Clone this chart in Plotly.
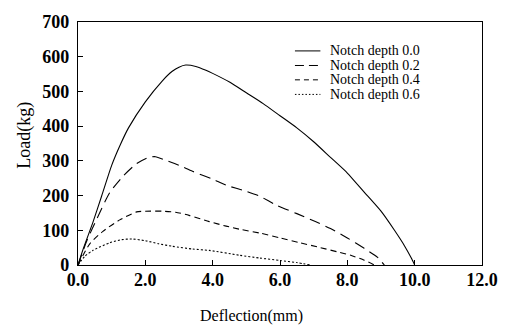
import plotly.graph_objects as go

# Notch depth 0.0 (solid)
defl_00 = [0, 0.15, 0.45, 0.7, 1.0, 1.25, 1.5, 2.0, 2.5, 2.8, 3.0, 3.2, 3.5, 3.8, 4.0, 4.5, 5.0,
           5.5, 6.0, 6.5, 7.0, 7.5, 8.0, 8.5, 9.0, 9.4, 9.7, 9.9, 10.0]
load_00 = [0, 45, 125, 198, 287, 345, 395, 470, 530, 558, 570, 576, 572, 561, 552, 527, 496,
           465, 430, 395, 355, 310, 265, 210, 155, 100, 55, 20, 0]
# Notch depth 0.2 (long dash)
defl_02 = [0, 0.26, 0.56, 0.94, 1.33, 1.74, 2.1, 2.3, 2.6, 3.0, 3.4, 4.0, 4.4, 5.0, 5.4, 5.9,
           6.5, 7.05, 7.5, 8.0, 8.5, 8.9, 9.1]
load_02 = [0, 69, 133, 208, 255, 292, 310, 312, 302, 287, 270, 247, 230, 212, 198, 172,
           148, 125, 105, 78, 48, 22, 0]
# Notch depth 0.4 (short dash)
defl_04 = [0, 0.35, 0.74, 1.24, 1.74, 2.0, 2.5, 2.9, 3.3, 3.9, 4.4, 4.8, 5.4, 6.0, 6.6, 7.2,
           7.7, 8.1, 8.5, 8.8]
load_04 = [0, 61, 97, 130, 153, 155, 155, 152, 143, 125, 112, 103, 92, 78, 64, 50,
           38, 28, 14, 0]
# Notch depth 0.6 (dotted)
defl_06 = [0, 0.2, 0.44, 0.94, 1.3, 1.6, 2.0, 2.4, 2.8, 3.4, 3.9, 4.8, 5.4, 6.0, 6.5, 6.9]
load_06 = [0, 25, 42, 64, 73, 75, 70, 61, 54, 46, 42, 28, 20, 13, 7, 0]

series_names = ["Notch depth 0.0", "Notch depth 0.2", "Notch depth 0.4", "Notch depth 0.6"]
dash_styles = ["solid", "11px,6px", "6px,4px", "2px,2px"]
legend_dash = ["solid", "9px,5px", "5px,4px", "1.5px,2px"]
x_ticks = [0, 2, 4, 6, 8, 10, 12]
y_ticks = [0, 100, 200, 300, 400, 500, 600, 700]

xs = [defl_00, defl_02, defl_04, defl_06]
ys = [load_00, load_02, load_04, load_06]

SERIF = "Liberation Serif"

fig = go.Figure()
for name, x, y, d in zip(series_names, xs, ys, dash_styles):
    fig.add_trace(go.Scatter(x=x, y=y, mode="lines", name=name,
                             line=dict(color="black", width=1.1, dash=d,
                                       shape="spline", smoothing=0.6),
                             showlegend=False))

# compact legend (sample line + label)
leg_y = [0.881, 0.821, 0.762, 0.702]
for name, d, yy in zip(series_names, legend_dash, leg_y):
    fig.add_shape(type="line", xref="paper", yref="paper", x0=0.537, x1=0.600, y0=yy, y1=yy,
                  line=dict(color="black", width=1, dash=d))
    fig.add_annotation(text=name, xref="paper", yref="paper", x=0.619, y=yy,
                       xanchor="left", yanchor="middle", showarrow=False,
                       font=dict(family=SERIF, size=14, color="black"))

fig.add_annotation(text="Deflection(mm)", xref="paper", yref="paper", x=0.43, y=-0.21,
                   xanchor="center", yanchor="middle", showarrow=False,
                   font=dict(family=SERIF, size=16, color="black"))
fig.add_annotation(text="Load(kg)", xref="paper", yref="paper", x=-0.131, y=0.532,
                   xanchor="center", yanchor="middle", showarrow=False, textangle=-90,
                   font=dict(family=SERIF, size=18, color="black"))

axis_common = dict(showline=True, linecolor="black", linewidth=1.3, mirror=True,
                   ticks="inside", ticklen=5, tickwidth=1, tickcolor="black",
                   showgrid=False, zeroline=False,
                   tickfont=dict(family=SERIF, size=18, color="black", weight="bold"))

fig.update_xaxes(range=[0, 12], tickvals=x_ticks, ticktext=[f"{v:.1f}" for v in x_ticks],
                 ticklabelstandoff=-2, **axis_common)
fig.update_yaxes(range=[0, 700], tickvals=y_ticks, ticktext=[str(v) for v in y_ticks],
                 ticklabelstandoff=4, **axis_common)

fig.update_layout(width=510, height=332, margin=dict(l=78, r=28, t=13, b=67),
                  plot_bgcolor="white", paper_bgcolor="white", showlegend=False)

fig.write_html("out.html", config={"displayModeBar": False},
               post_script="document.body.style.margin='0';document.body.style.padding='0';")
